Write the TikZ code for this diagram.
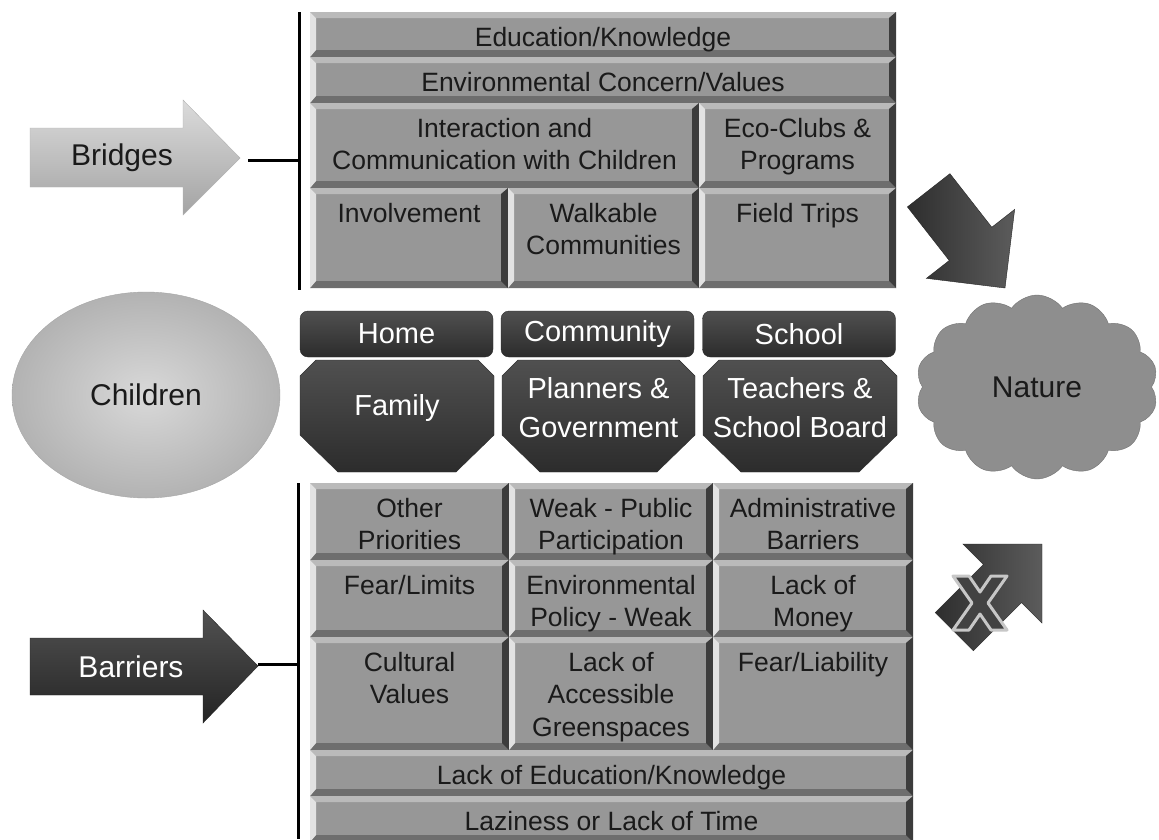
\documentclass[tikz,border=0pt]{standalone}
\usepackage{fontspec}
\setmainfont{Liberation Sans}
\usetikzlibrary{shapes.geometric,shapes.symbols}

% grey tones
\definecolor{cellface}{HTML}{979797}
\definecolor{cellhi}{HTML}{E2E2E2}
\definecolor{celltop}{HTML}{BABABA}
\definecolor{cellbot}{HTML}{6E6E6E}
\definecolor{cellshade}{HTML}{3C3C3C}
\definecolor{darkhi}{HTML}{505050}
\definecolor{darklo}{HTML}{2C2C2C}
\definecolor{cloudgray}{HTML}{8E8E8E}
\definecolor{inktext}{HTML}{1A1A1A}

\newcommand{\ppbb}{path picture bounding box}

\tikzset{
  bevelbox/.style={fill=cellface, path picture={
      \fill[celltop] (\ppbb.north west) -- (\ppbb.north east)
        -- ([xshift=-7pt,yshift=-6pt]\ppbb.north east)
        -- ([xshift=6pt,yshift=-6pt]\ppbb.north west) -- cycle;
      \fill[cellbot] (\ppbb.south west) -- (\ppbb.south east)
        -- ([xshift=-7pt,yshift=7pt]\ppbb.south east)
        -- ([xshift=6pt,yshift=7pt]\ppbb.south west) -- cycle;
      \fill[cellhi] (\ppbb.north west) -- (\ppbb.south west)
        -- ([xshift=6pt,yshift=7pt]\ppbb.south west)
        -- ([xshift=6pt,yshift=-6pt]\ppbb.north west) -- cycle;
      \fill[cellshade] (\ppbb.north east) -- (\ppbb.south east)
        -- ([xshift=-7pt,yshift=7pt]\ppbb.south east)
        -- ([xshift=-7pt,yshift=-6pt]\ppbb.north east) -- cycle;
    }},
  celltext/.style={anchor=north, inner sep=0pt, align=center, text=inktext,
    font=\fontsize{26.5}{32.5}\selectfont},
  darkbox/.style={top color=darkhi, bottom color=darklo, draw=darklo},
  darktext/.style={text=white, align=center, inner sep=0pt,
    font=\fontsize{29}{39}\selectfont},
  tab/.style={darkbox, rounded corners=8pt, minimum width=193pt,
    minimum height=46pt, darktext},
  bigtext/.style={text=inktext, font=\fontsize{30}{36}\selectfont},
  bracket/.style={line width=3pt},
  fatarrow/.pic={
    \path[left color=black!82, right color=black!64, draw=black!85]
      (0,0) -- (-56,-56) -- (-56,-27) -- (-124,-27)
      -- (-124,27) -- (-56,27) -- (-56,56) -- cycle;
  },
  crossmark/.style={fill=black!74, draw=black!22, line width=3pt, line join=round},
}

% bevelled cell: name, x1, y1, x2, y2, text
\newcommand{\bevcell}[6]{%
  \path[bevelbox] (#2,#3) rectangle (#4,#5);
  \node[celltext] (#1) at ({(#2+#4)/2},{#3+15}) {#6};
}

% dark octagon: name, left, right, text
\newcommand{\octbox}[4]{%
  \path[darkbox] ({#2+16},360) -- ({#3-16},360) -- (#3,376) -- (#3,435)
    -- ({#3-38},472) -- ({#2+38},472) -- (#2,435) -- (#2,376) -- cycle;
  \node[darktext] (#1) at ({(#2+#3)/2},408) {#4};
}

\begin{document}
\begin{tikzpicture}[x=1pt,y=-1pt]

\useasboundingbox[fill=white] (0,0) rectangle (1159,839);

% Bridges arrow
\path[top color=black!14, bottom color=black!36, draw=black!30]
  (30,128) -- (183,128) -- (183,100) -- (240,158)
  -- (183,215) -- (183,187) -- (30,187) -- cycle;
\node[bigtext] (bridges) at (122,158) {Bridges};

\coordinate (bridgesend) at (248,160);
\coordinate (bridgesbar) at (299,160);
\coordinate (bridgestop) at (299,12);
\coordinate (bridgesbot) at (299,290);
\draw[bracket] (bridgesend) -- (bridgesbar);
\draw[bracket] (bridgestop) -- (bridgesbot);

% Bridges
\bevcell{edu}{310}{12}{896}{57}{Education/Knowledge}
\bevcell{concern}{310}{57}{896}{103}{Environmental Concern/Values}
\bevcell{interact}{310}{103}{699}{188}{Interaction and\\Communication with Children}
\bevcell{ecoclubs}{699}{103}{896}{188}{Eco-Clubs \&\\Programs}
\bevcell{involve}{310}{188}{508}{288}{Involvement}
\bevcell{walkable}{508}{188}{699}{288}{Walkable\\Communities}
\bevcell{trips}{699}{188}{896}{288}{Field Trips}

% Settings
\node[tab] (home) at (396.5,334) {Home};
\node[tab] (community) at (597.5,334) {Community};
\node[tab] (school) at (799,334) {School};

% Actors
\octbox{family}{300}{494}{Family}
\octbox{planners}{502}{695}{Planners \&\\Government}
\octbox{teachers}{703}{897}{Teachers \&\\School Board}

% Children and nature
\node[ellipse, inner color=black!15, outer color=black!30, draw=black!35,
  minimum width=268pt, minimum height=206pt, bigtext]
  (children) at (146,395) {Children};

\node[cloud, cloud puffs=14, cloud puff arc=110, aspect=1.3,
  fill=cloudgray, draw=black!55, minimum width=242pt,
  minimum height=184pt, bigtext]
  (nature) at (1037,387) {Nature};

\pic[rotate=-52] at (1005,288) {fatarrow};

% Barriers arrow
\path[top color=black!68, bottom color=black!86, draw=black!85]
  (30,638) -- (203,638) -- (203,610) -- (258,666)
  -- (203,723) -- (203,695) -- (30,695) -- cycle;
\node[bigtext, text=white] (barriers) at (131,667) {Barriers};

\coordinate (barriersend) at (258,664);
\coordinate (barriersbar) at (298,664);
\coordinate (barrierstop) at (298,483);
\coordinate (barriersbot) at (298,839);
\draw[bracket] (barriersend) -- (barriersbar);
\draw[bracket] (barrierstop) -- (barriersbot);

% Barriers
\bevcell{priorities}{310}{483}{509}{560}{Other\\Priorities}
\bevcell{participation}{509}{483}{713}{560}{Weak - Public\\Participation}
\bevcell{admin}{713}{483}{913}{560}{Administrative\\Barriers}
\bevcell{limits}{310}{560}{509}{637}{Fear/Limits}
\bevcell{policy}{509}{560}{713}{637}{Environmental\\Policy - Weak}
\bevcell{money}{713}{560}{913}{637}{Lack of\\Money}
\bevcell{culture}{310}{637}{509}{750}{Cultural\\Values}
\bevcell{greenspace}{509}{637}{713}{750}{Lack of\\Accessible\\Greenspaces}
\bevcell{liability}{713}{637}{913}{750}{Fear/Liability}
\bevcell{lackedu}{310}{750}{913}{796}{Lack of Education/Knowledge}
\bevcell{laziness}{310}{796}{913}{842}{Laziness or Lack of Time}

% Blocked arrow
\pic[rotate=45] at (1042,544) {fatarrow};
\path[crossmark, shift={(980,603)}]
  (-27,-27) -- (-11,-27) -- (0,-11) -- (11,-27) -- (27,-27) -- (8,0)
  -- (27,27) -- (11,27) -- (0,11) -- (-11,27) -- (-27,27) -- (-8,0) -- cycle;

\end{tikzpicture}
\end{document}
